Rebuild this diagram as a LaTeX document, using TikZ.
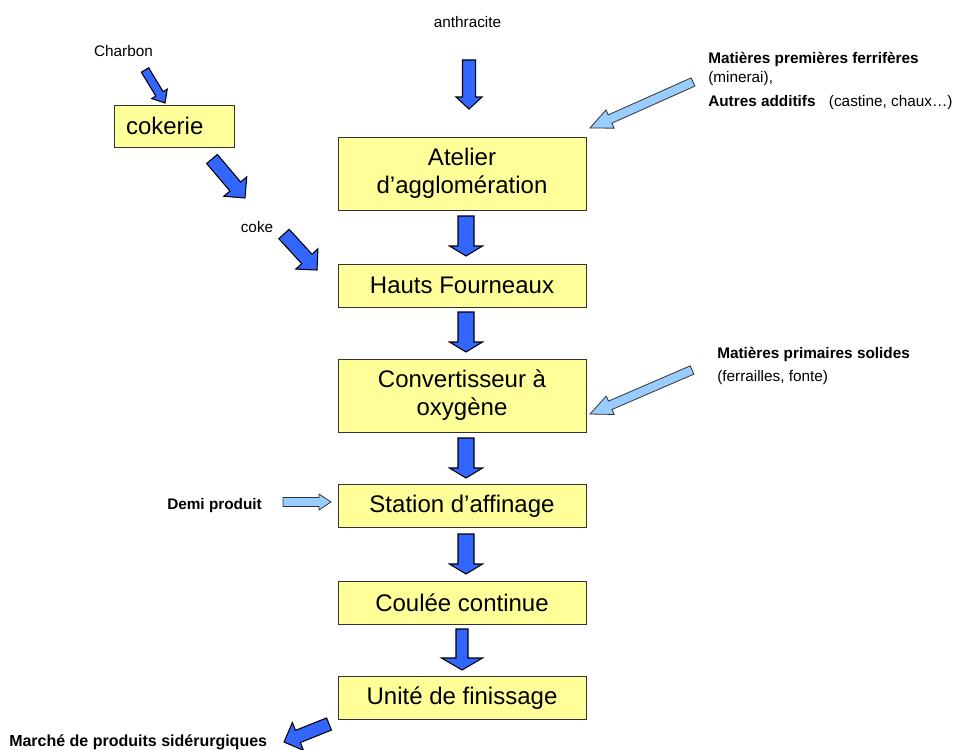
\documentclass[tikz,border=0pt]{standalone}
\usepackage{fontspec}
\setmainfont{Liberation Sans}
\usetikzlibrary{calc}
\definecolor{boxyellow}{HTML}{FFFF99}
\definecolor{flowblue}{HTML}{3366FF}
\definecolor{feedblue}{HTML}{99CCFF}

% block arrow: style, tail, tip, half shaft, half head, head length
\newcommand{\blockarrow}[6]{%
  \coordinate (neck) at ($(#3)!#6!(#2)$);
  \draw[#1] ($(#2)!#4!90:(#3)$) -- ($(neck)!#4!90:(#3)$) -- ($(neck)!#5!90:(#3)$) -- (#3)
    -- ($(neck)!#5!-90:(#3)$) -- ($(neck)!#4!-90:(#3)$) -- ($(#2)!#4!-90:(#3)$) -- cycle;}

\begin{document}
\begin{tikzpicture}[x=0.75pt,y=-0.75pt,
  stage/.style={draw=black!80,line width=0.75pt,fill=boxyellow,minimum width=186pt,
    minimum height=32.25pt,align=center,font=\fontsize{18}{21}\selectfont},
  note/.style={font=\fontsize{11.5}{14}\selectfont,inner sep=0pt},
  flow/.style={draw=black,line width=0.8pt,fill=flowblue},
  feed/.style={draw=black!80,line width=0.6pt,fill=feedblue}]
\useasboundingbox (0,0) rectangle (962,749);

% stages
\node[stage,minimum width=90pt,minimum height=31.5pt,text width=72pt,inner xsep=9pt,align=left] (cokerie) at (174,126) {cokerie};
\node[stage,minimum height=54.75pt] (atelier) at (462,173.5) {Atelier\\d’agglomération};
\node[stage] (hauts) at (462,285.5) {Hauts Fourneaux};
\node[stage,minimum height=54.75pt] (convert) at (462,395.5) {Convertisseur à\\oxygène};
\node[stage] (station) at (462,506) {Station d’affinage};
\node[stage] (coulee) at (462,603) {Coulée continue};
\node[stage] (finissage) at (462,698) {Unité de finissage};

% texts
\node[note,anchor=base] (charbon) at (123.5,57) {Charbon};
\node[note,anchor=base] (anthra) at (467.5,28) {anthracite};
\node[note,anchor=base] (coke) at (257,232) {coke};
\node[note,anchor=base west] (ferri1) at (708,64) {\bfseries Matières premières ferrifères};
\node[note,anchor=base west] (ferri2) at (708,83) {(minerai),};
\node[note,anchor=base west] (ferri3) at (708,106) {\bfseries Autres additifs\hspace{10pt}\mdseries(castine, chaux…)};
\node[note,anchor=base west] (solid1) at (717,358) {\bfseries Matières primaires solides};
\node[note,anchor=base west] (solid2) at (717,381) {(ferrailles, fonte)};
\node[note,anchor=base west] (demi) at (167,509) {\bfseries Demi produit};
\node[note,anchor=base west,font=\fontsize{12}{14}\selectfont] (marche) at (9,746) {\bfseries Marché de produits sidérurgiques};

% arrow ends
\coordinate (a0t) at (469,60);   \coordinate (a0h) at (469,109);
\coordinate (a1t) at (466,216);  \coordinate (a1h) at (466,256);
\coordinate (a2t) at (466,312);  \coordinate (a2h) at (466,352);
\coordinate (a3t) at (466,438);  \coordinate (a3h) at (466,478);
\coordinate (a4t) at (466,534);  \coordinate (a4h) at (466,574);
\coordinate (a5t) at (462,629);  \coordinate (a5h) at (462,670);
\coordinate (c0t) at (145,70);   \coordinate (c0h) at (165,103);
\coordinate (c1t) at (212,159);  \coordinate (c1h) at (245,198);
\coordinate (c2t) at (284,234);  \coordinate (c2h) at (317,270);
\coordinate (f1t) at (693,82);   \coordinate (f1h) at (590,128);
\coordinate (f2t) at (692,370);  \coordinate (f2h) at (590,414);
\coordinate (d0t) at (283,502);  \coordinate (d0h) at (331,502);
\coordinate (m0t) at (329,724);  \coordinate (m0h) at (284,742);

% main flow
\blockarrow{flow}{a0t}{a0h}{4.9pt}{9.75pt}{9pt}
\blockarrow{flow}{a1t}{a1h}{6pt}{12.4pt}{7.5pt}
\blockarrow{flow}{a2t}{a2h}{6pt}{12.4pt}{7.5pt}
\blockarrow{flow}{a3t}{a3h}{6pt}{12.4pt}{7.5pt}
\blockarrow{flow}{a4t}{a4h}{6pt}{12.4pt}{7.5pt}
\blockarrow{flow}{a5t}{a5h}{4.5pt}{15.4pt}{9pt}
\blockarrow{flow}{c0t}{c0h}{3.2pt}{6.8pt}{8pt}
\blockarrow{flow}{c1t}{c1h}{5.25pt}{11.25pt}{11.25pt}
\blockarrow{flow}{c2t}{c2h}{5.25pt}{11.25pt}{11.25pt}
\blockarrow{flow}{m0t}{m0h}{4.9pt}{11.25pt}{11.25pt}

% inputs
\blockarrow{feed}{f1t}{f1h}{3.4pt}{7.5pt}{16.5pt}
\blockarrow{feed}{f2t}{f2h}{3.4pt}{7.5pt}{16.5pt}
\blockarrow{feed}{d0t}{d0h}{3.4pt}{6pt}{9pt}

\end{tikzpicture}
\end{document}
